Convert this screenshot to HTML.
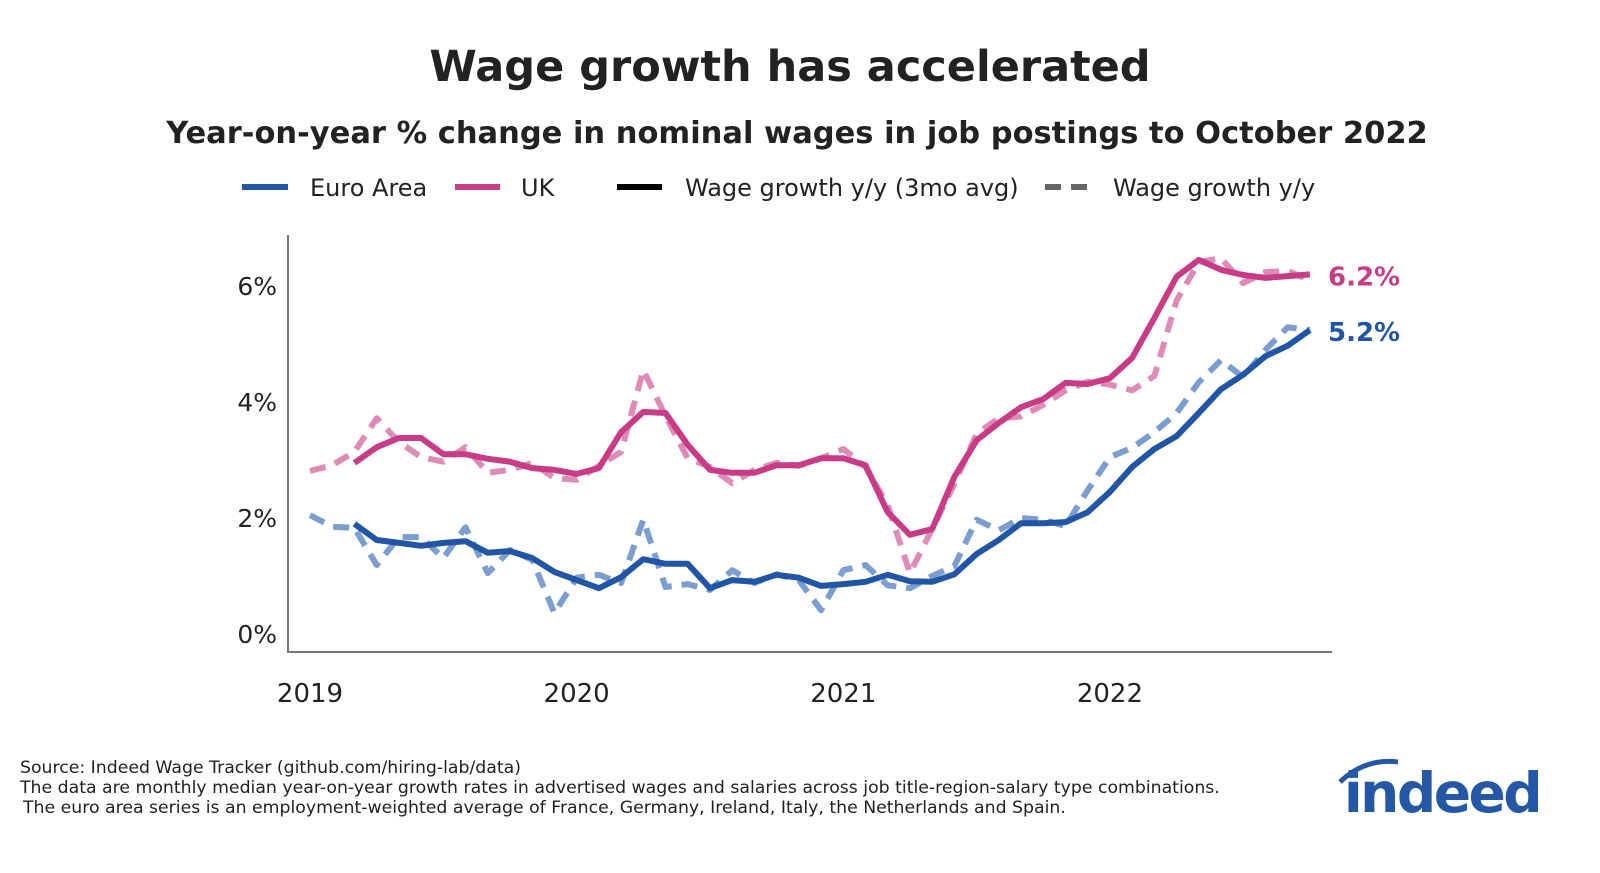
<!DOCTYPE html>
<html><head><meta charset="utf-8">
<style>
body{margin:0;background:#fff;font-family:"Liberation Sans","DejaVu Sans",sans-serif;}
svg{display:block}
</style></head>
<body>
<svg width="1600" height="873" viewBox="0 0 1600 873">
<text x="790" y="81" text-anchor="middle" font-size="43" font-weight="bold" fill="#222" font-family="DejaVu Sans, sans-serif">Wage growth has accelerated</text>
<text x="797" y="143" text-anchor="middle" font-size="30.5" font-weight="bold" fill="#222" font-family="DejaVu Sans, sans-serif">Year-on-year % change in nominal wages in job postings to October 2022</text>
<g font-size="24" fill="#222" font-family="DejaVu Sans, sans-serif">
 <g><line x1="242" y1="187" x2="288" y2="187" stroke="#2155a5" stroke-width="6"/><text x="310" y="196">Euro Area</text></g>
 <g><line x1="455" y1="187" x2="500" y2="187" stroke="#c83c87" stroke-width="6"/><text x="521" y="196">UK</text></g>
 <g><line x1="617" y1="187" x2="662" y2="187" stroke="#000" stroke-width="6"/><text x="685" y="196">Wage growth y/y (3mo avg)</text></g>
 <g><line x1="1045" y1="187" x2="1092" y2="187" stroke="#666" stroke-width="6" stroke-dasharray="16,10"/><text x="1113" y="196">Wage growth y/y</text></g>
</g>
<g id="axes"></g>
<g id="plot"></g>
<g font-size="17.3" fill="#222" font-family="DejaVu Sans, sans-serif">
<text x="20" y="773">Source: Indeed Wage Tracker (github.com/hiring-lab/data)</text>
<text x="20" y="793">The data are monthly median year-on-year growth rates in advertised wages and salaries across job title-region-salary type combinations.</text>
<text x="23" y="813">The euro area series is an employment-weighted average of France, Germany, Ireland, Italy, the Netherlands and Spain.</text>
</g>
<g>
<path d="M1340 782 Q1365 758 1398 762" stroke="#2557a7" stroke-width="5" fill="none"/>
<text x="1442" y="812" text-anchor="middle" font-size="55" font-weight="bold" fill="#2557a7" font-family="DejaVu Sans, sans-serif" letter-spacing="-2.5">indeed</text>
</g>
</svg>
<script>
const months = 46; // Jan 2019 .. Oct 2022
const yTicks = [0,2,4,6];
const yTickLabels = ["0%","2%","4%","6%"];
const xTickYears = ["2019","2020","2021","2022"];
const ukAvg = [null,null,2.95,3.22,3.38,3.38,3.10,3.10,3.02,2.97,2.86,2.83,2.76,2.86,3.48,3.83,3.81,3.26,2.83,2.78,2.78,2.91,2.91,3.03,3.03,2.91,2.10,1.71,1.81,2.71,3.34,3.64,3.91,4.05,4.33,4.31,4.41,4.76,5.45,6.16,6.45,6.28,6.19,6.14,6.17,6.2];
const euAvg = [null,null,1.90,1.62,1.57,1.52,1.57,1.60,1.40,1.43,1.31,1.07,0.93,0.79,0.98,1.29,1.21,1.21,0.79,0.93,0.90,1.02,0.97,0.83,0.86,0.90,1.02,0.91,0.90,1.03,1.38,1.62,1.91,1.91,1.93,2.10,2.45,2.88,3.19,3.41,3.81,4.22,4.47,4.79,4.97,5.24];
const ukYY = [2.81,2.91,3.14,3.72,3.31,3.05,2.97,3.22,2.78,2.83,2.95,2.69,2.66,2.90,3.14,4.55,3.76,3.03,2.88,2.60,2.83,2.95,2.90,3.03,3.19,2.88,2.22,1.05,1.81,2.59,3.45,3.72,3.75,3.95,4.20,4.35,4.30,4.20,4.45,5.75,6.41,6.48,6.05,6.24,6.26,6.10];
const euYY = [2.05,1.85,1.83,1.19,1.67,1.67,1.31,1.84,1.05,1.45,1.28,0.36,0.97,1.02,0.88,1.97,0.81,0.86,0.76,1.10,0.88,1.03,0.93,0.41,1.10,1.19,0.84,0.79,1.00,1.17,1.97,1.79,2.00,1.97,1.86,2.48,3.05,3.21,3.48,3.81,4.34,4.72,4.43,4.90,5.29,5.24];
const ukEndLabel = "6.2%", euEndLabel = "5.2%";

const NS="http://www.w3.org/2000/svg";
const xs = i => 310 + i*22.22;
const ys = v => 634 - v*58;
function mk(tag, attrs, parent){const e=document.createElementNS(NS,tag);for(const k in attrs)e.setAttribute(k,attrs[k]);parent.appendChild(e);return e;}
const axes=document.getElementById('axes'), plot=document.getElementById('plot');
let a=mk('line',{x1:288,y1:235,x2:288,y2:653,stroke:'#777','stroke-width':2},axes);


a=mk('line',{x1:287,y1:652,x2:1332,y2:652,stroke:'#777','stroke-width':2},axes);


yTicks.forEach((v,i)=>{const t=mk('text',{x:277,y:ys(v)+9,'text-anchor':'end','font-size':25,fill:'#222','font-family':'DejaVu Sans, sans-serif'},axes);t.textContent=yTickLabels[i];

});
xTickYears.forEach((y,i)=>{const t=mk('text',{x:xs(i*12),y:702,'text-anchor':'middle','font-size':26,fill:'#222','font-family':'DejaVu Sans, sans-serif'},axes);t.textContent=y;

});
function line(data,color,dash,name){let d='';data.forEach((v,i)=>{if(v==null)return;d+=(d?'L':'M')+xs(i).toFixed(1)+' '+ys(v).toFixed(1);});
const p=mk('path',{d:d,fill:'none',stroke:color,'stroke-width':6,'stroke-linejoin':'round'},plot);if(dash)p.setAttribute('stroke-dasharray','16,10');

}
line(euYY,'#7b9dd0',true,'euro-area-yy-line');
line(ukYY,'#de8cb7',true,'uk-yy-line');
line(euAvg,'#2155a5',false,'euro-area-3mo-avg-line');
line(ukAvg,'#c83c87',false,'uk-3mo-avg-line');
let t=mk('text',{x:1328,y:ys(ukAvg[months-1])+11,'font-size':26,'font-weight':'bold',fill:'#c83c87','font-family':'DejaVu Sans, sans-serif'},plot);t.textContent=ukEndLabel;


t=mk('text',{x:1328,y:ys(euAvg[months-1])+11,'font-size':26,'font-weight':'bold',fill:'#2155a5','font-family':'DejaVu Sans, sans-serif'},plot);t.textContent=euEndLabel;


</script>
</body></html>
